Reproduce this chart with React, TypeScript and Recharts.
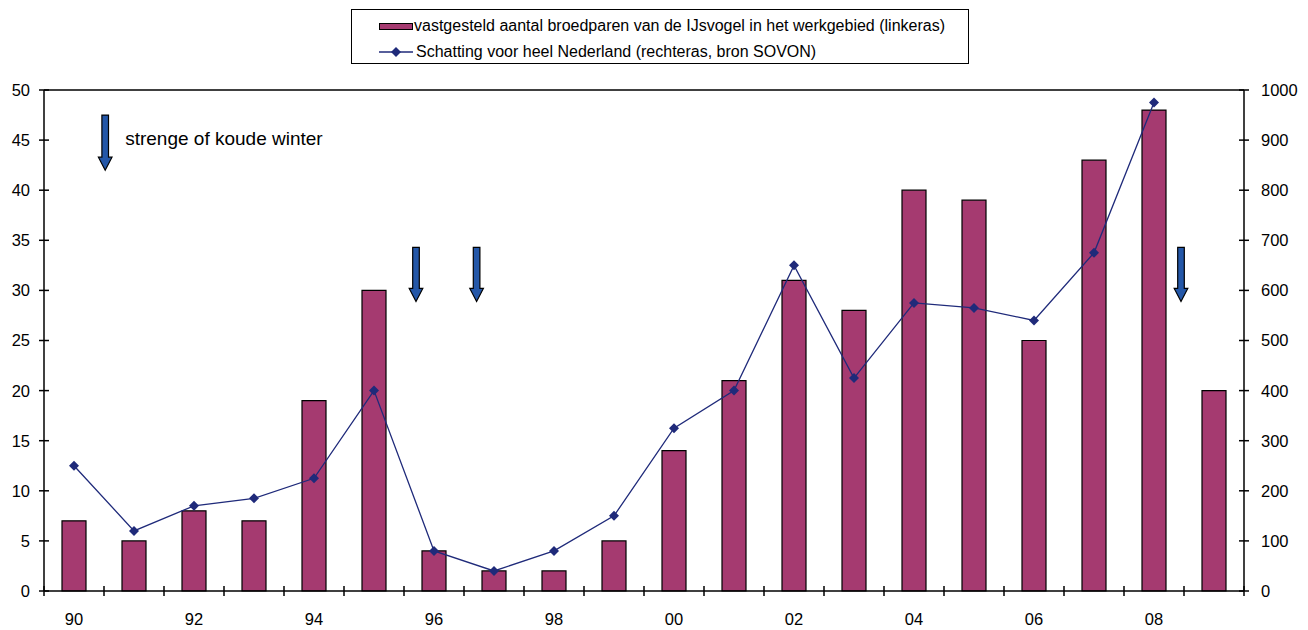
import React from "react";
import {
  ComposedChart,
  Bar,
  Line,
  XAxis,
  YAxis,
  ReferenceLine,
} from "recharts";

const years = ["90", "91", "92", "93", "94", "95", "96", "97", "98", "99", "00", "01", "02", "03", "04", "05", "06", "07", "08", "09"];
const broedparen = [7, 5, 8, 7, 19, 30, 4, 2, 2, 5, 14, 21, 31, 28, 40, 39, 25, 43, 48, 20];
const schatting: (number | null)[] = [250, 120, 170, 185, 225, 400, 80, 40, 80, 150, 325, 400, 650, 425, 575, 565, 540, 675, 975, null];

const leftTicks = [0, 5, 10, 15, 20, 25, 30, 35, 40, 45, 50];
const rightTicks = [0, 100, 200, 300, 400, 500, 600, 700, 800, 900, 1000];
const slotTicks = Array.from({ length: 21 }, (_, i) => i);

// winter arrows: position on slot axis (0..20), top and tip in left-axis units
const arrowX = [1.02, 6.2, 7.21, 18.95];
const arrowTop = [47.5, 34.3, 34.3, 34.3];
const arrowTip = [42, 28.9, 28.9, 28.9];
const arrowLabel = ["strenge of koude winter", "", "", ""];

const data = years.map((y, i) => ({ year: y, slot: i + 0.5, aantal: broedparen[i], nl: schatting[i] }));

const BAR = "#a53a70";
const LINE = "#1f2a7a";
const ARROW = "#2457a8";
const FONT = "'Liberation Sans', Arial, sans-serif";
const TICK_FS = 16.5;
const TICKC = "#000";

const Diamond = (props: any) => {
  const { cx, cy } = props;
  if (cx == null || cy == null || props.value == null) return <g />;
  return <polygon points={`${cx},${cy - 5} ${cx + 5},${cy} ${cx},${cy + 5} ${cx - 5},${cy}`} fill={LINE} />;
};

const arrowShape = (label: string) => (props: any) => {
  const { x1, y1, y2 } = props;
  const x = x1;
  const headH = 13;
  const sw = 3.3;
  const hw = 6.8;
  const pts = [
    [x - sw, y1],
    [x + sw, y1],
    [x + sw, y2 - headH],
    [x + hw, y2 - headH],
    [x, y2],
    [x - hw, y2 - headH],
    [x - sw, y2 - headH],
  ]
    .map((p) => p.join(","))
    .join(" ");
  return (
    <g>
      <polygon points={pts} fill={ARROW} stroke="#000" strokeWidth={1.2} />
      {label && (
        <text x={x + 20} y={y1 + 30} fontSize={19} fill="#000" fontFamily={FONT}>
          {label}
        </text>
      )}
    </g>
  );
};

// tick mark crossing the x axis (mirror axis, tickSize 0 -> y is the axis)
const SlotTick = (props: any) => {
  const { x, y } = props;
  return <line x1={x} x2={x} y1={y - 5} y2={y + 5} stroke={TICKC} strokeWidth={1.5} />;
};

// left axis: tickSize 0, tickMargin 14 -> axis at x + 14
const LeftTick = (props: any) => {
  const { x, y, payload } = props;
  const ax = x + 14;
  return (
    <g>
      <line x1={ax - 5} x2={ax + 5} y1={y} y2={y} stroke={TICKC} strokeWidth={1.5} />
      <text x={x} y={y} dy="0.36em" textAnchor="end" fontSize={TICK_FS} fill="#000" fontFamily={FONT}>
        {payload.value}
      </text>
    </g>
  );
};

// right axis: tickSize 0, tickMargin 17 -> axis at x - 17
const RightTick = (props: any) => {
  const { x, y, payload } = props;
  const ax = x - 17;
  return (
    <g>
      <line x1={ax - 5} x2={ax + 5} y1={y} y2={y} stroke={TICKC} strokeWidth={1.5} />
      <text x={x} y={y} dy="0.36em" textAnchor="start" fontSize={TICK_FS} fill="#000" fontFamily={FONT}>
        {payload.value}
      </text>
    </g>
  );
};

const LegendBox = () => (
  <div
    style={{
      position: "absolute",
      left: 351,
      top: 9,
      width: 618,
      height: 55,
      border: "1.5px solid #000",
      background: "#fff",
      fontFamily: FONT,
      fontSize: 16,
      color: "#000",
      boxSizing: "border-box",
    }}
  >
    <div style={{ position: "absolute", left: 27, top: 6, height: 20, display: "flex", alignItems: "center", whiteSpace: "nowrap" }}>
      <span style={{ display: "inline-block", width: 32, height: 5, background: BAR, border: "1.2px solid #000", marginRight: 1 }} />
      vastgesteld aantal broedparen van de IJsvogel in het werkgebied (linkeras)
    </div>
    <div style={{ position: "absolute", left: 27, top: 32, height: 20, display: "flex", alignItems: "center", whiteSpace: "nowrap" }}>
      <svg width={34} height={12} style={{ marginRight: 3 }}>
        <line x1={0} y1={6} x2={34} y2={6} stroke={LINE} strokeWidth={1.5} />
        <polygon points="17,1 22,6 17,11 12,6" fill={LINE} />
      </svg>
      Schatting voor heel Nederland (rechteras, bron SOVON)
    </div>
  </div>
);

export default function App() {
  return (
    <div style={{ position: "absolute", left: 0, top: 0, width: 1308, height: 630, background: "#fff" }}>
      <ComposedChart
        width={1308}
        height={630}
        data={data}
        margin={{ top: 90, right: 0, bottom: 0, left: 0 }}
        style={{ fontFamily: FONT }}
      >
        <XAxis
          xAxisId="cat"
          dataKey="year"
          interval={1}
          tickLine={false}
          axisLine={{ stroke: "#000", strokeWidth: 1.5 }}
          tick={{ fill: "#000", fontSize: TICK_FS }}
          tickSize={8}
          tickMargin={14}
          height={39}
        />
        <XAxis
          xAxisId="n"
          dataKey="slot"
          type="number"
          domain={[0, 20]}
          allowDataOverflow
          ticks={slotTicks}
          mirror
          axisLine={false}
          tickLine={false}
          tickSize={0}
          tickMargin={0}
          tick={<SlotTick />}
          height={1}
        />
        <YAxis
          yAxisId="left"
          domain={[0, 50]}
          ticks={leftTicks}
          width={44}
          axisLine={{ stroke: "#000", strokeWidth: 1.5 }}
          tickLine={false}
          tickSize={0}
          tickMargin={14}
          tick={<LeftTick />}
        />
        <YAxis
          yAxisId="right"
          orientation="right"
          domain={[0, 1000]}
          ticks={rightTicks}
          width={64}
          axisLine={{ stroke: "#000", strokeWidth: 1.5 }}
          tickLine={false}
          tickSize={0}
          tickMargin={17}
          tick={<RightTick />}
        />
        <ReferenceLine xAxisId="cat" yAxisId="left" y={50} stroke="#000" strokeWidth={1.5} />
        <Bar
          xAxisId="cat"
          yAxisId="left"
          dataKey="aantal"
          fill={BAR}
          stroke="#000"
          strokeWidth={1.2}
          barSize={24}
          isAnimationActive={false}
        />
        <Line
          xAxisId="cat"
          yAxisId="right"
          dataKey="nl"
          stroke={LINE}
          strokeWidth={1.3}
          dot={<Diamond />}
          activeDot={false}
          connectNulls={false}
          isAnimationActive={false}
        />
        {arrowX.map((x, i) => (
          <ReferenceLine
            key={i}
            xAxisId="n"
            yAxisId="left"
            segment={[
              { x, y: arrowTop[i] },
              { x, y: arrowTip[i] },
            ]}
            shape={arrowShape(arrowLabel[i])}
          />
        ))}
      </ComposedChart>
      <LegendBox />
    </div>
  );
}
